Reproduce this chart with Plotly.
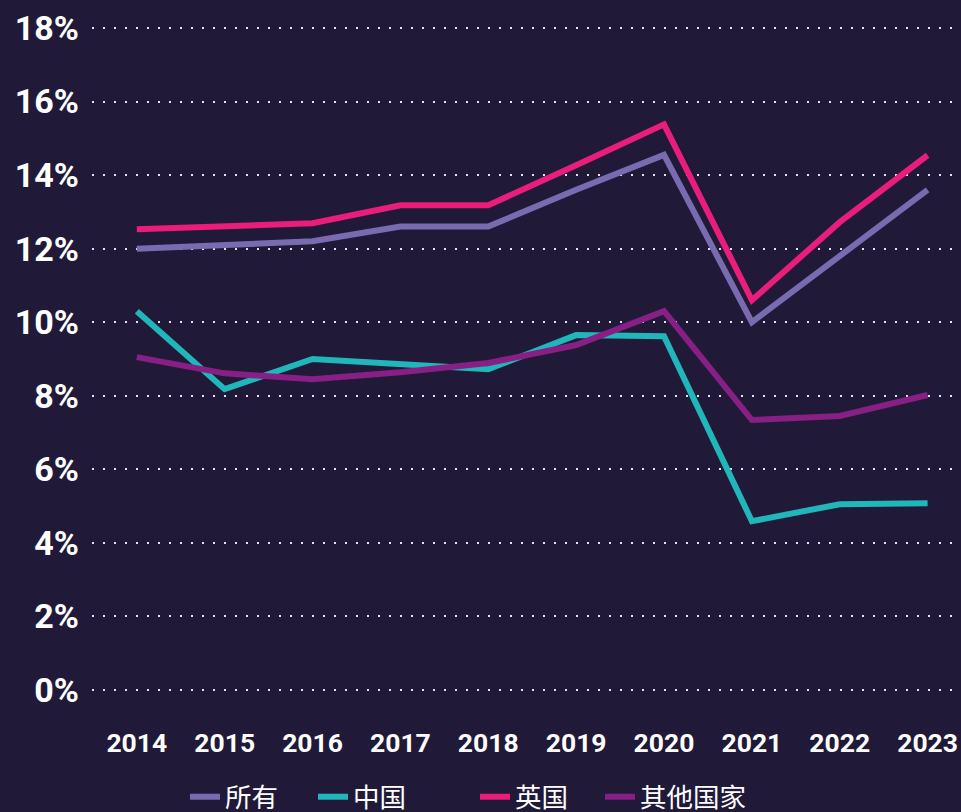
import plotly.graph_objects as go

years = [2014, 2015, 2016, 2017, 2018, 2019, 2020, 2021, 2022, 2023]
all_vals = [12.0, 12.1, 12.2, 12.6, 12.6, 13.6, 14.55, 10.0, 11.8, 13.6]
china_vals = [10.3, 8.18, 9.0, 8.86, 8.72, 9.65, 9.62, 4.59, 5.05, 5.08]
uk_vals = [12.53, 12.6, 12.69, 13.18, 13.18, 14.27, 15.38, 10.6, 12.72, 14.54]
other_vals = [9.05, 8.61, 8.45, 8.64, 8.89, 9.38, 10.3, 7.34, 7.45, 8.02]

series_names = ["所有", "中国", "英国", "其他国家"]
series_vals = [all_vals, china_vals, uk_vals, other_vals]
colors = ["#7A6BB0", "#20B6BA", "#E81E7A", "#871F84"]
y_ticks = [0, 2, 4, 6, 8, 10, 12, 14, 16, 18]
y_tick_labels = [f"{v}%" for v in y_ticks]

bg = "#201A38"
L, W = 92, 869
PLOT_B, PLOT_H = 708, 698
legend_text_x = [227, 355, 517, 642]
legend_ids = ["legend", "legend2", "legend3", "legend4"]

fig = go.Figure()
for name, vals, c, lid in zip(series_names, series_vals, colors, legend_ids):
    fig.add_trace(go.Scatter(x=years, y=vals, name=name, mode="lines",
                             line=dict(color=c, width=6), legend=lid))

legend_common = dict(orientation="h", yanchor="middle", xanchor="left",
                     y=(PLOT_B - 797) / PLOT_H,
                     font=dict(size=26.5, color="white", family="'Noto Sans CJK SC', Roboto"),
                     bgcolor="rgba(0,0,0,0)")
layout_legends = {}
for lid, tx in zip(legend_ids, legend_text_x):
    layout_legends[lid] = dict(legend_common, x=(tx - 42 - L) / W)

fig.update_layout(
    width=961, height=812,
    paper_bgcolor=bg, plot_bgcolor=bg,
    margin=dict(l=L, r=0, t=10, b=104, autoexpand=False),
    font=dict(family="Roboto, 'Noto Sans CJK SC'", color="white"),
    showlegend=True,
    **layout_legends,
)
fig.update_xaxes(range=[2013.49, 2023.38], tickmode="array", tickvals=years,
                 ticktext=[str(y) for y in years], showgrid=False, zeroline=False,
                 showline=False, ticks="", ticklabelstandoff=16,
                 tickfont=dict(size=26.5, family="Roboto", weight="bold", color="white"))
fig.update_yaxes(range=[-0.49, 18.49], tickmode="array", tickvals=y_ticks,
                 ticktext=y_tick_labels, showgrid=True, gridcolor="#E6E4EE",
                 gridwidth=2, griddash="2px,9px", zeroline=False, showline=False,
                 ticks="", ticklabelstandoff=12,
                 tickfont=dict(size=34, family="Roboto", weight="bold", color="white"))

fig.write_html("out.html", config={"displayModeBar": False},
               post_script="document.body.style.margin='0';document.body.style.overflow='hidden';")
